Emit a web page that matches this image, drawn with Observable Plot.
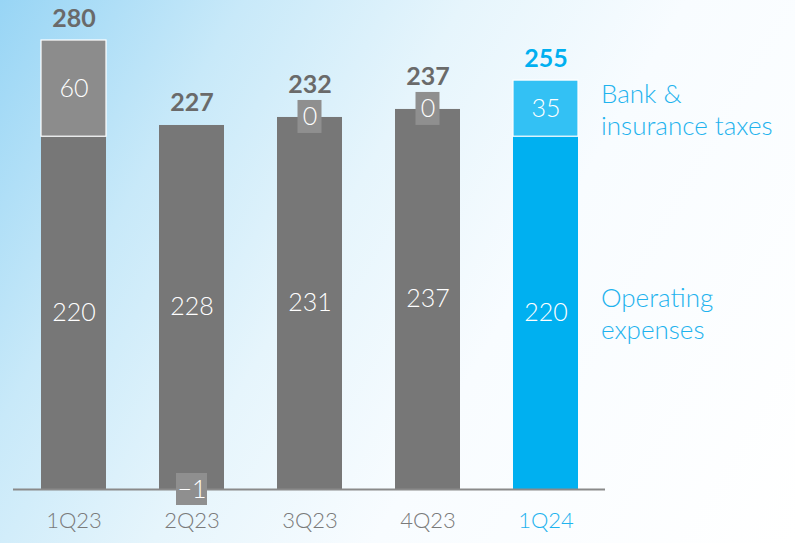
<!DOCTYPE html>
<html>
<head>
<meta charset="utf-8">
<script src="https://cdn.jsdelivr.net/npm/d3@7"></script>
<script src="https://cdn.jsdelivr.net/npm/@observablehq/plot@0.6"></script>
<style>
  html, body { margin: 0; padding: 0; background: #fff; }
  #chart svg { display: block; }
</style>
</head>
<body>
<div id="chart"></div>
<script>
const quarters = ["1Q23", "2Q23", "3Q23", "4Q23", "1Q24"];
const opex = [220, 228, 231, 237, 220];
const taxes = [60, -1, 0, 0, 35];
const totals = [280, 227, 232, 237, 255];
const legendTaxes = "Bank &\ninsurance taxes";
const legendOpex = "Operating\nexpenses";

const GRAY = "#777777", GRAY_LIGHT = "#8c8c8c", BOX = "#8f8f8f";
const BLUE = "#00b0f0", BLUE_LIGHT = "#33c1f4", BLUE_TEXT = "#1fb3ee";
const TOTAL_GRAY = "#6a6a6a", TICK_GRAY = "#7a7a7a";

const rows = quarters.map((q, i) => ({
  q, opex: opex[i], tax: taxes[i], total: totals[i], current: i === quarters.length - 1
}));
const base = d => d.tax > 0 ? d.total - d.tax : d.total;
const fmt = d3.format("d");
const font = "Lato, 'Open Sans', sans-serif";

const chart = Plot.plot({
  width: 795,
  height: 543,
  marginLeft: 13,
  marginRight: 190,
  marginTop: 0,
  marginBottom: 0,
  style: {
    background: "linear-gradient(120deg, #98d5f5 0%, #c8e9f9 22%, #e6f5fc 42%, #f8fcff 62%, #ffffff 100%)",
    fontFamily: font
  },
  x: {domain: quarters, range: [40, 578], paddingInner: 0.45, paddingOuter: 0, axis: null},
  y: {domain: [0, 280], range: [489, 40], axis: null},
  marks: [
    Plot.barY(rows, {x: "q", y1: 0, y2: base, fill: d => d.current ? BLUE : GRAY}),
    Plot.barY(rows.filter(d => d.tax > 0), {
      x: "q", y1: base, y2: "total",
      fill: d => d.current ? BLUE_LIGHT : GRAY_LIGHT,
      stroke: "white", strokeWidth: 1.2
    }),
    Plot.ruleY([0], {stroke: "#8a8a8a", strokeWidth: 2}),
    Plot.barY(rows.filter(d => d.tax === 0), {
      x: "q", y1: "total", y2: "total", fill: BOX,
      insetLeft: 20.5, insetRight: 20.5, insetTop: -17, insetBottom: -16
    }),
    Plot.barY(rows.filter(d => d.tax < 0), {
      x: "q", y1: 0, y2: 0, fill: BOX,
      insetLeft: 17, insetRight: 17, insetTop: -16, insetBottom: -16
    }),
    Plot.text(rows, {
      x: "q", y: d => base(d) / 2, text: d => fmt(d.opex),
      fill: "white", fontSize: 25, fontWeight: 300
    }),
    Plot.text(rows.filter(d => d.tax > 0), {
      x: "q", y: d => d.total - d.tax / 2, text: d => fmt(d.tax),
      fill: "white", fontSize: 25, fontWeight: 300
    }),
    Plot.text(rows.filter(d => d.tax === 0), {
      x: "q", y: "total", text: d => fmt(d.tax),
      fill: "white", fontSize: 25, fontWeight: 300
    }),
    Plot.text(rows.filter(d => d.tax < 0), {
      x: "q", y: 0, text: d => fmt(d.tax),
      fill: "white", fontSize: 25, fontWeight: 300
    }),
    Plot.text(rows.filter(d => d.tax !== 0), {
      x: "q", y: "total", text: d => fmt(d.total), dy: -22,
      fill: d => d.current ? BLUE : TOTAL_GRAY, fontSize: 25, fontWeight: "bold"
    }),
    Plot.text(rows.filter(d => d.tax === 0), {
      x: "q", y: "total", text: d => fmt(d.total), dy: -32,
      fill: d => d.current ? BLUE : TOTAL_GRAY, fontSize: 25, fontWeight: "bold"
    }),
    Plot.text(rows, {
      x: "q", frameAnchor: "bottom", dy: -16, text: "q",
      fill: d => d.current ? BLUE_TEXT : TICK_GRAY, fontSize: 22, fontWeight: 300
    }),
    Plot.text(rows.filter(d => d.current), {
      x: "q", y: d => d.total - d.tax / 2, text: () => legendTaxes,
      dx: 55, textAnchor: "start", lineHeight: 1.23,
      fill: BLUE_TEXT, fontSize: 26, fontWeight: 300
    }),
    Plot.text(rows.filter(d => d.current), {
      x: "q", y: d => base(d) / 2, text: () => legendOpex,
      dx: 55, textAnchor: "start", lineHeight: 1.23,
      fill: BLUE_TEXT, fontSize: 26, fontWeight: 300
    })
  ]
});
document.getElementById("chart").appendChild(chart);
</script>
</body>
</html>
